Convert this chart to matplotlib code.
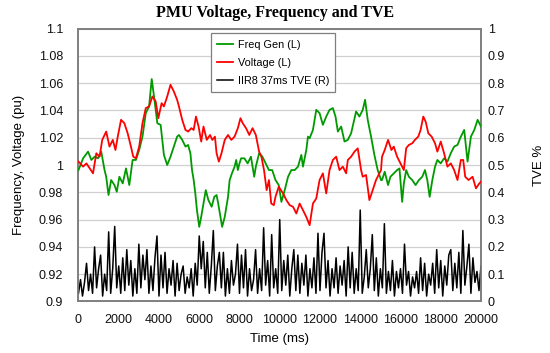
import matplotlib
matplotlib.use("Agg")
import matplotlib.pyplot as plt
import numpy as np
from matplotlib.ticker import MultipleLocator, FuncFormatter

# ---- data ----
freq_t = [0, 230, 476, 640, 803, 967, 1131, 1295, 1377, 1492, 1623, 1787, 1902, 2033, 2197, 2361,
          2525, 2689, 2852, 3016, 3180, 3344, 3508, 3639, 3754, 3918, 4082, 4245, 4409, 4573, 4737,
          4901, 4992, 5154, 5317, 5447, 5561, 5642, 5724, 5805, 5886, 6000, 6098, 6211, 6325, 6455,
          6618, 6748, 6862, 6943, 7138, 7268, 7431, 7512, 7626, 7756, 7837, 7919, 8000, 8081, 8244,
          8406, 8569, 8732, 8813, 8976, 9138, 9301, 9464, 9626, 9789, 9951, 10083, 10248, 10413,
          10578, 10743, 10908, 11073, 11155, 11320, 11403, 11485, 11650, 11815, 11980, 12145, 12310,
          12475, 12640, 12772, 12888, 13053, 13218, 13383, 13548, 13795, 13960, 14125, 14241, 14373,
          14538, 14703, 14868, 15033, 15083, 15217, 15383, 15500, 15667, 15833, 15950, 16083, 16167,
          16283, 16417, 16583, 16750, 16917, 17083, 17217, 17333, 17450, 17583, 17717, 17833, 18000,
          18167, 18333, 18500, 18667, 18833, 19000, 19167, 19333, 19500, 19667, 19833, 20000]
freq_v = [0.9963, 1.0049, 1.0098, 1.0037, 1.0061, 1.0049, 1.0098, 0.9963, 0.9914, 0.978, 0.989,
          0.9853, 0.9804, 0.9914, 0.9865, 0.9975, 0.9853, 1.0037, 1.0037, 1.011, 1.0208, 1.038,
          1.0429, 1.063, 1.0502, 1.0306, 1.0294, 1.0074, 1.0, 1.0061, 1.0135, 1.0208, 1.022, 1.0184,
          1.0135, 1.0147, 1.0086, 0.9963, 0.989, 0.9792, 0.967, 0.9547, 0.962, 0.9718, 0.9816,
          0.9743, 0.9694, 0.9767, 0.978, 0.9718, 0.9547, 0.962, 0.9767, 0.989, 0.9939, 0.9988,
          1.0037, 0.9963, 1.0012, 1.0049, 1.0049, 1.0012, 1.0061, 0.9914, 0.9988, 1.0086, 1.0061,
          1.0012, 0.9963, 0.9963, 0.989, 0.9853, 0.973, 0.9816, 0.9914, 0.9963, 0.9963, 0.9988,
          1.0074, 0.9988, 1.011, 1.0208, 1.0196, 1.0257, 1.0404, 1.038, 1.0294, 1.0355, 1.0404,
          1.0417, 1.0355, 1.0245, 1.0282, 1.0172, 1.0184, 1.0233, 1.0392, 1.0355, 1.0404, 1.0478,
          1.0331, 1.0208, 1.0074, 0.9963, 0.989, 0.989, 0.9951, 0.9853, 0.9914, 0.9939, 0.9963,
          0.9975, 0.973, 0.9865, 0.9963, 0.9914, 0.989, 0.9853, 0.989, 0.9914, 0.9963, 0.989,
          0.9767, 0.989, 0.9988, 1.0037, 1.0012, 1.0049, 1.0025, 1.0086, 1.0135, 1.0147, 1.0208,
          1.0257, 1.0025, 1.0208, 1.0257, 1.0331, 1.0282]

volt_t = [0, 230, 394, 558, 722, 886, 1049, 1180, 1377, 1541, 1705, 1836, 1951, 2115, 2279, 2443,
          2606, 2721, 2852, 3016, 3180, 3344, 3508, 3672, 3836, 3967, 4131, 4245, 4409, 4573, 4737,
          4901, 4992, 5154, 5317, 5447, 5610, 5724, 5837, 5967, 6098, 6211, 6374, 6537, 6650, 6780,
          6862, 6976, 7106, 7268, 7431, 7593, 7756, 7919, 8049, 8163, 8325, 8488, 8650, 8813, 8976,
          9089, 9219, 9350, 9464, 9577, 9707, 9789, 9951, 10165, 10330, 10495, 10660, 10825, 10990,
          11155, 11320, 11485, 11650, 11815, 11980, 12145, 12310, 12475, 12640, 12805, 12970, 13135,
          13300, 13383, 13548, 13713, 13878, 14043, 14125, 14290, 14455, 14620, 14785, 15033, 15083,
          15217, 15383, 15550, 15667, 15833, 16000, 16167, 16283, 16417, 16583, 16717, 16883, 17000,
          17133, 17250, 17383, 17550, 17717, 17833, 18000, 18167, 18333, 18500, 18667, 18833, 19000,
          19117, 19217, 19383, 19583, 19750, 19917, 20000]
volt_v = [1.0025, 0.9988, 1.0012, 0.9975, 0.9939, 1.0086, 1.0061, 1.0184, 1.0245, 1.0135, 1.0184,
          1.011, 1.0208, 1.0331, 1.0306, 1.0233, 1.0135, 1.0061, 1.0049, 1.0135, 1.0306, 1.0417,
          1.0429, 1.0502, 1.0466, 1.0343, 1.0453, 1.0429, 1.0502, 1.0588, 1.0539, 1.0478, 1.0429,
          1.0331, 1.0257, 1.0245, 1.027, 1.0257, 1.0355, 1.0282, 1.0172, 1.0282, 1.0184, 1.022,
          1.0184, 1.0208, 1.0086, 1.0025, 1.0086, 1.0184, 1.022, 1.0184, 1.0208, 1.027, 1.0343,
          1.0306, 1.027, 1.022, 1.027, 1.022, 1.0098, 1.0061, 0.9963, 0.9816, 0.989, 0.9718, 0.9706,
          0.9767, 0.9841, 0.9792, 0.9743, 0.9706, 0.9694, 0.9645, 0.9718, 0.9669, 0.962, 0.9559,
          0.9718, 0.9755, 0.989, 0.9939, 0.9792, 0.9963, 1.0037, 1.0061, 0.9963, 0.9988, 0.9939,
          1.0037, 1.0061, 1.0098, 1.0122, 0.9963, 0.9914, 0.9927, 0.9743, 0.9816, 0.989, 0.9963,
          1.0061, 1.011, 1.0184, 1.011, 1.0135, 1.0061, 1.0012, 0.9963, 1.0123, 1.0147, 1.0159,
          1.0184, 1.0208, 1.0257, 1.0355, 1.0318, 1.0233, 1.0208, 1.0159, 1.0098, 1.0172, 1.0086,
          0.9988, 1.0012, 0.9963, 0.989, 1.0037, 1.0037, 0.9914, 0.989, 0.9914, 0.9829, 0.9865,
          0.9878]

tve_t = list(range(0, 20001, 100))
tve_v = [0.03, 0.08, 0.02, 0.07, 0.14, 0.04, 0.10, 0.03, 0.20, 0.05,
         0.12, 0.17, 0.02, 0.10, 0.04, 0.255, 0.03, 0.12, 0.275, 0.05,
         0.13, 0.03, 0.16, 0.04, 0.19, 0.06, 0.15, 0.02, 0.12, 0.03,
         0.21, 0.05, 0.17, 0.08, 0.19, 0.03, 0.13, 0.04, 0.16, 0.24,
         0.02, 0.17, 0.05, 0.18, 0.03, 0.12, 0.06, 0.15, 0.02, 0.14,
         0.04, 0.10, 0.13, 0.03, 0.09, 0.05, 0.12, 0.02, 0.14, 0.06,
         0.24, 0.12, 0.22, 0.05, 0.18, 0.03, 0.13, 0.26, 0.04, 0.13,
         0.18, 0.05, 0.18, 0.02, 0.12, 0.03, 0.15, 0.06, 0.10, 0.21,
         0.03, 0.17, 0.05, 0.19, 0.02, 0.12, 0.04, 0.08, 0.19, 0.03,
         0.12, 0.04, 0.27, 0.06, 0.15, 0.02, 0.245, 0.05, 0.12, 0.03,
         0.30, 0.04, 0.15, 0.06, 0.17, 0.02, 0.12, 0.19, 0.04, 0.17,
         0.03, 0.14, 0.06, 0.17, 0.02, 0.12, 0.05, 0.16, 0.03, 0.25,
         0.04, 0.18, 0.25, 0.05, 0.15, 0.02, 0.12, 0.05, 0.16, 0.03,
         0.13, 0.06, 0.15, 0.02, 0.20, 0.05, 0.18, 0.03, 0.12, 0.04,
         0.335, 0.03, 0.09, 0.19, 0.05, 0.12, 0.245, 0.04, 0.16, 0.02,
         0.12, 0.05, 0.285, 0.03, 0.11, 0.04, 0.15, 0.02, 0.11, 0.05,
         0.12, 0.03, 0.21, 0.06, 0.11, 0.02, 0.09, 0.05, 0.11, 0.03,
         0.16, 0.04, 0.14, 0.02, 0.10, 0.06, 0.14, 0.03, 0.19, 0.05,
         0.15, 0.02, 0.13, 0.06, 0.17, 0.19, 0.04, 0.14, 0.05, 0.18,
         0.03, 0.26, 0.06, 0.13, 0.21, 0.03, 0.16, 0.07, 0.11, 0.04,
         0.13]

title = "PMU Voltage, Frequency and TVE"
labels = ["Freq Gen (L)", "Voltage (L)", "IIR8 37ms TVE (R)"]

# ---- plot ----
plt.rcParams['font.family'] = ['Liberation Sans', 'DejaVu Sans']
fig = plt.figure(figsize=(5.5, 3.53), dpi=100)
ax = fig.add_axes([0.1427, 0.1459, 0.7318, 0.7733])
ax2 = ax.twinx()

GREEN = "#009a00"
RED = "#ff0000"
l1, = ax.plot(freq_t, freq_v, color=GREEN, lw=1.3, label=labels[0], zorder=3)
l2, = ax.plot(volt_t, volt_v, color=RED, lw=1.3, label=labels[1], zorder=3)
l3, = ax2.plot(tve_t, tve_v, color="black", lw=1.1, label=labels[2], zorder=3)

ax.set_xlim(0, 20000)
ax.set_ylim(0.9, 1.1)
ax2.set_ylim(0, 1)
ax.xaxis.set_major_locator(MultipleLocator(2000))
ax.yaxis.set_major_locator(MultipleLocator(0.02))
ax2.yaxis.set_major_locator(MultipleLocator(0.1))
ax.yaxis.set_major_formatter(FuncFormatter(lambda v, p: f"{v:g}" if abs(v-1) > 1e-9 else "1"))
ax2.yaxis.set_major_formatter(FuncFormatter(lambda v, p: f"{v:.1f}".rstrip('0').rstrip('.') if v > 1e-9 else "0"))

# grid drawn on the bottom (right-scale) axes so that all lines sit above it
ax.grid(False)
ax2.grid(True, color="#d0d0d0", lw=0.9, zorder=0)
ax2.set_axisbelow(True)
for a in (ax, ax2):
    a.tick_params(length=0, labelsize=9, colors="#111111")
    for s in a.spines.values():
        s.set_color("#7f7f7f")
        s.set_linewidth(1.2)
ax.tick_params(axis="y", pad=11)
ax.tick_params(axis="x", pad=9)
ax2.tick_params(axis="y", pad=5)

ax.set_xlabel("Time (ms)", fontsize=9.5, labelpad=5)
ax.set_ylabel("Frequency, Voltage (pu)", fontsize=9.5, labelpad=10)
ax2.set_ylabel("TVE %", fontsize=9.5, labelpad=20)

fig.suptitle(title, x=0.5, y=0.985, fontsize=11.5, fontweight="bold",
             family=["Liberation Serif", "DejaVu Serif"])

leg = ax.legend(handles=[l1, l2, l3], loc="upper left", bbox_to_anchor=(0.328, 0.983),
                borderaxespad=0, fontsize=7.8, frameon=True, fancybox=False, framealpha=1,
                edgecolor="#7f7f7f", handlelength=1.5, handletextpad=0.4,
                borderpad=0.6, labelspacing=0.75)
leg.get_frame().set_linewidth(0.9)
leg.set_zorder(10)
ax.set_zorder(ax2.get_zorder() + 1)
ax.patch.set_visible(False)

fig.savefig("out.png", dpi=100)
